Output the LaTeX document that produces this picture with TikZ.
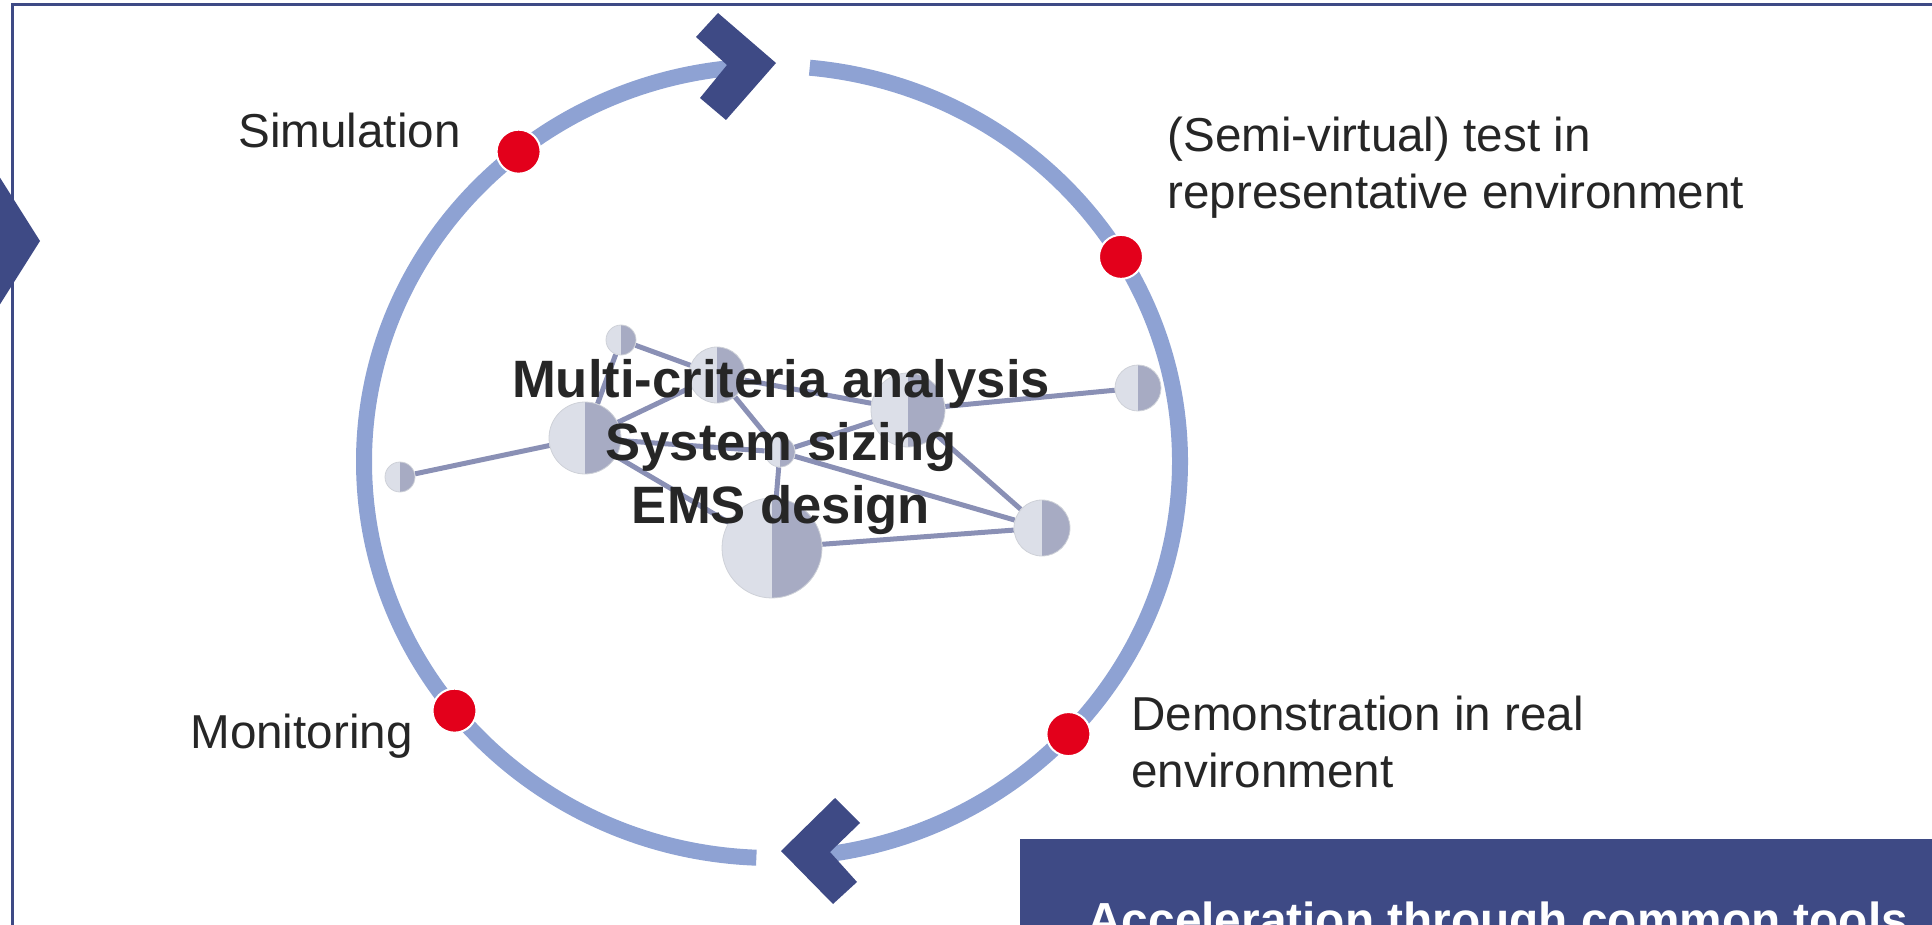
\documentclass[tikz,border=0pt]{standalone}
\usepackage{fontspec}
\setmainfont{Liberation Sans}
\usetikzlibrary{backgrounds}

\definecolor{ringblue}{HTML}{8EA2D3}
\definecolor{darkblue}{HTML}{3E4A85}
\definecolor{dotred}{HTML}{E3001B}
\definecolor{linkgray}{HTML}{8A90B5}
\definecolor{halflight}{HTML}{DCDFE8}
\definecolor{halfdark}{HTML}{A7ABC3}
\definecolor{txtgray}{HTML}{262626}

\begin{document}
\begin{tikzpicture}[x=0.5pt, y=0.5pt,
    ring/.style={draw=ringblue, line width=8pt},
    reddot/.style={circle, fill=dotred, draw=white, line width=1pt, minimum size=22pt, inner sep=0pt},
    bubble/.style={circle, inner sep=0pt, minimum size=#1, fill=halflight, draw=halflight!85!gray, line width=0.4pt,
      path picture={\fill[halfdark] (path picture bounding box.north) rectangle (path picture bounding box.south east);}},
    link/.style={draw=linkgray, line width=2.5pt},
    lbl/.style={text=txtgray, font=\fontsize{23.8}{28.5}\selectfont, align=left, inner sep=0pt},
    ctext/.style={text=txtgray, font=\fontsize{26.3}{31.5}\selectfont\bfseries, align=center, inner sep=0pt}]
    \useasboundingbox (0,0) rectangle (1932,-925);
    \clip (0,0) rectangle (1932,-925);

    % cycle ring and its arrows
    \draw[ring] (772,-462) ++(84.7:408 and 396) arc[start angle=84.7, end angle=-84, x radius=408, y radius=396];
    \draw[ring] (772,-462) ++(93.8:408 and 396) arc[start angle=93.8, end angle=267.8, x radius=408, y radius=396];
    \fill[darkblue] (718,-13) -- (776,-63) -- (726,-120) -- (700,-98) -- (727,-65) -- (696,-37) -- cycle;
    \fill[darkblue] (835,-798) -- (860,-823) -- (830,-852) -- (857,-882) -- (833,-904) -- (781,-851) -- cycle;
    \fill[darkblue] (-20,-146) -- (40,-241) -- (-20,-336) -- (-45,-310) -- (-8,-241) -- (-45,-172) -- cycle;

    % frame
    \draw[darkblue, line width=1.5pt] (12,-4.7) rectangle (2100,-1100);

    % stages
    \path (772,-462) ++(128.4:408 and 396) node[reddot] (dsim) {};
    \path (772,-462) ++(31.2:408 and 396) node[reddot] (dtest) {};
    \path (772,-462) ++(-43.4:408 and 396) node[reddot] (ddemo) {};
    \path (772,-462) ++(218.9:408 and 396) node[reddot] (dmon) {};

    \node[lbl, anchor=base west] (lsim) at (238,-148) {Simulation};
    \node[lbl, anchor=base west] (ltest) at (1167,-209) {(Semi-virtual) test in\\representative environment};
    \node[lbl, anchor=base west] (ldemo) at (1131,-787) {Demonstration in real\\environment};
    \node[lbl, anchor=base west] (lmon) at (190,-748) {Monitoring};

    % network
    \node[bubble=15pt] (n1) at (621,-340) {};
    \node[bubble=28pt] (n2) at (717,-375) {};
    \node[bubble=36pt] (n3) at (585,-438) {};
    \node[bubble=15pt] (n4) at (400,-477) {};
    \node[bubble=37pt] (n5) at (908,-410) {};
    \node[bubble=15pt] (n6) at (780,-452) {};
    \node[bubble=23pt] (n7) at (1138,-388) {};
    \node[bubble=50pt] (n8) at (772,-548) {};
    \node[bubble=28pt] (n9) at (1042,-528) {};
    \begin{scope}[on background layer]
      \foreach \a/\b in {n1/n2, n1/n3, n3/n4, n3/n2, n3/n6, n3/n8, n2/n6, n2/n5,
                         n5/n6, n5/n7, n5/n9, n6/n8, n6/n9, n8/n9}
        \draw[link] (\a) -- (\b);
    \end{scope}

    \node[ctext, anchor=base] (core) at (781,-523) {Multi-criteria analysis\\System sizing\\EMS design};

    % bottom banner
    \fill[darkblue] (1020,-839) rectangle (1940,-935);
    \node[anchor=base west, text=white, font=\fontsize{23.9}{28}\selectfont\bfseries, inner sep=0pt] (accel)
      at (1087,-936) {Acceleration through common tools};
\end{tikzpicture}
\end{document}
